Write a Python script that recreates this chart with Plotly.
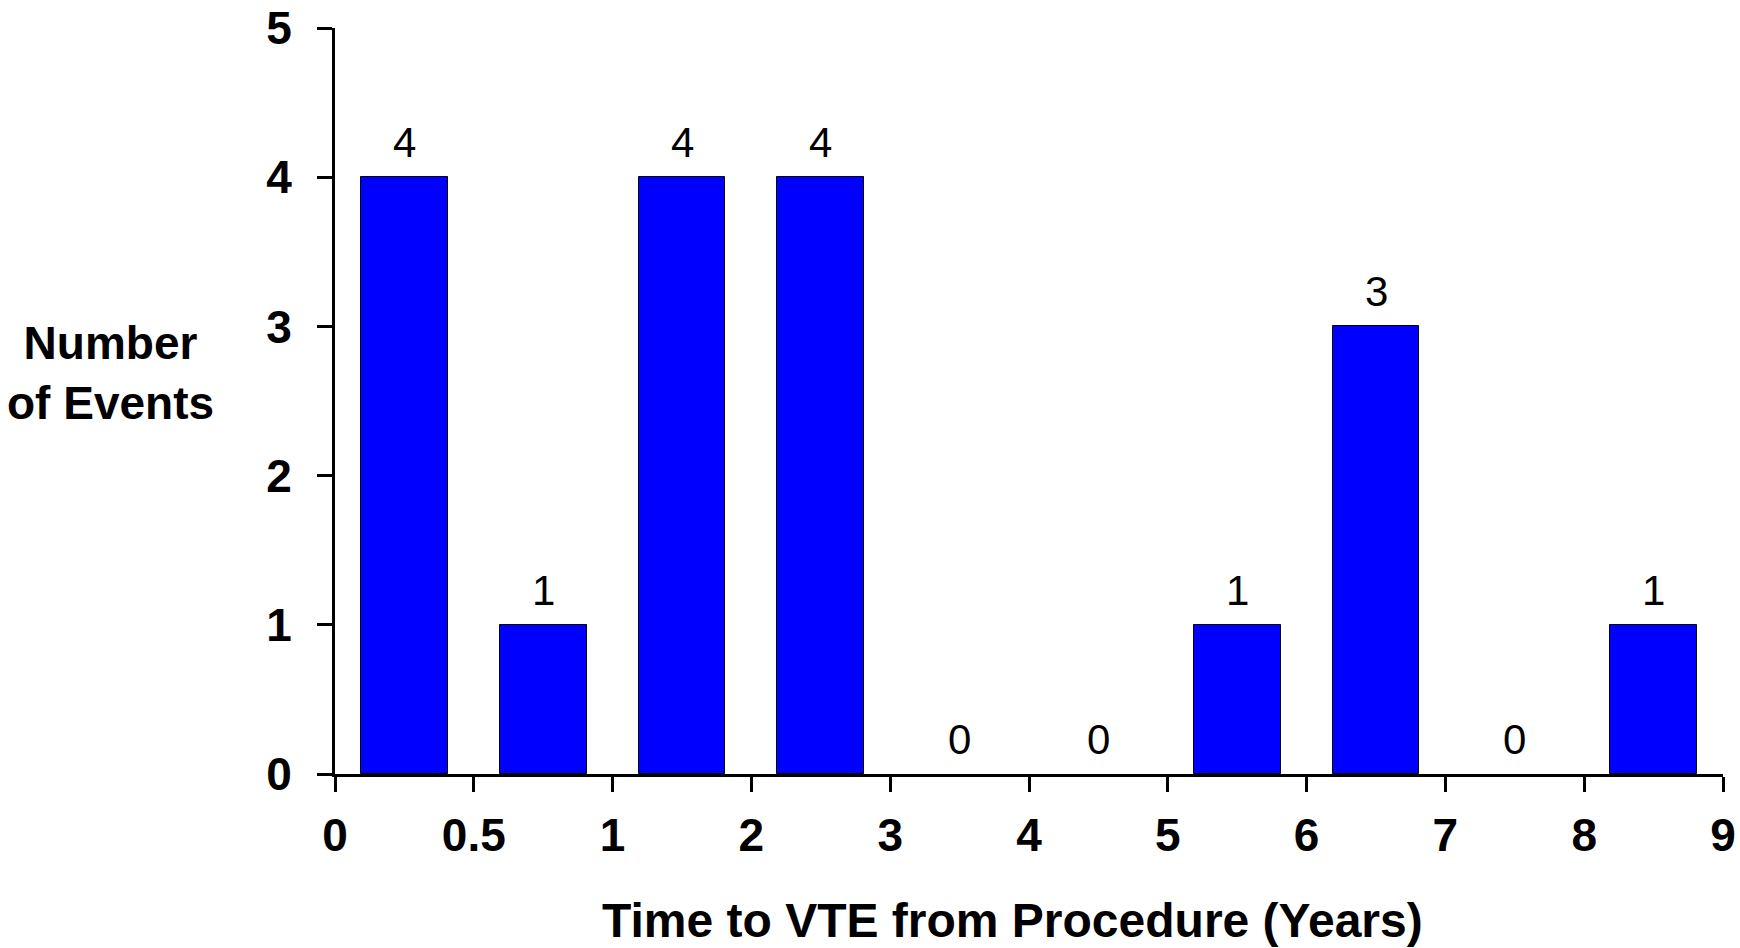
import plotly.graph_objects as go

# Data
bin_labels = ["0", "0.5", "1", "2", "3", "4", "5", "6", "7", "8", "9"]   # bin boundaries
event_counts = [4, 1, 4, 4, 0, 0, 1, 3, 0, 1]
y_ticks = [0, 1, 2, 3, 4, 5]

bar_pos = [i + 0.5 for i in range(len(event_counts))]
outline_w = [1 if v > 0 else 0 for v in event_counts]
FONT = "Arial, Liberation Sans, sans-serif"

fig = go.Figure()
fig.add_trace(go.Bar(
    x=bar_pos, y=event_counts, width=0.625,
    marker=dict(color="#0000FF", line=dict(color="black", width=outline_w)),
    hoverinfo="skip", showlegend=False,
))

annotations = []
for xp, v in zip(bar_pos, event_counts):
    annotations.append(dict(
        x=xp, y=v, xref="x", yref="y", text=str(v), showarrow=False,
        yanchor="bottom", yshift=9,
        font=dict(family=FONT, size=42, color="black"),
    ))

annotations.append(dict(
    x=-0.1615, y=0.537, xref="paper", yref="paper",
    text="<b>Number<br>of Events</b>", showarrow=False,
    xanchor="center", yanchor="middle", align="center",
    font=dict(family=FONT, size=46, color="black"),
))
annotations.append(dict(
    x=0.488, y=-0.197, xref="paper", yref="paper",
    text="<b>Time to VTE from Procedure (Years)</b>", showarrow=False,
    xanchor="center", yanchor="middle",
    font=dict(family=FONT, size=48, color="black"),
))

fig.update_layout(
    width=1740, height=948,
    margin=dict(l=335, r=17, t=28, b=174, autoexpand=False),
    plot_bgcolor="white", paper_bgcolor="white",
    annotations=annotations,
    bargap=0,
)
fig.update_xaxes(
    range=[0, len(event_counts)], tickmode="array",
    tickvals=list(range(len(bin_labels))), ticktext=bin_labels,
    showline=True, linecolor="black", linewidth=3,
    ticks="outside", ticklen=15, tickwidth=3, tickcolor="black",
    tickfont=dict(family=FONT, size=46, color="black", weight="bold"),
    showgrid=False, zeroline=False, ticklabelstandoff=4,
    ticklabeloverflow="allow", automargin=False,
)
fig.update_yaxes(
    range=[0, 5], tickmode="array", tickvals=y_ticks,
    showline=True, linecolor="black", linewidth=3,
    ticks="outside", ticklen=15, tickwidth=3, tickcolor="black",
    tickfont=dict(family=FONT, size=46, color="black", weight="bold"),
    showgrid=False, zeroline=False, ticklabelstandoff=16,
    ticklabeloverflow="allow", automargin=False,
)

fig.write_html("out.html")
